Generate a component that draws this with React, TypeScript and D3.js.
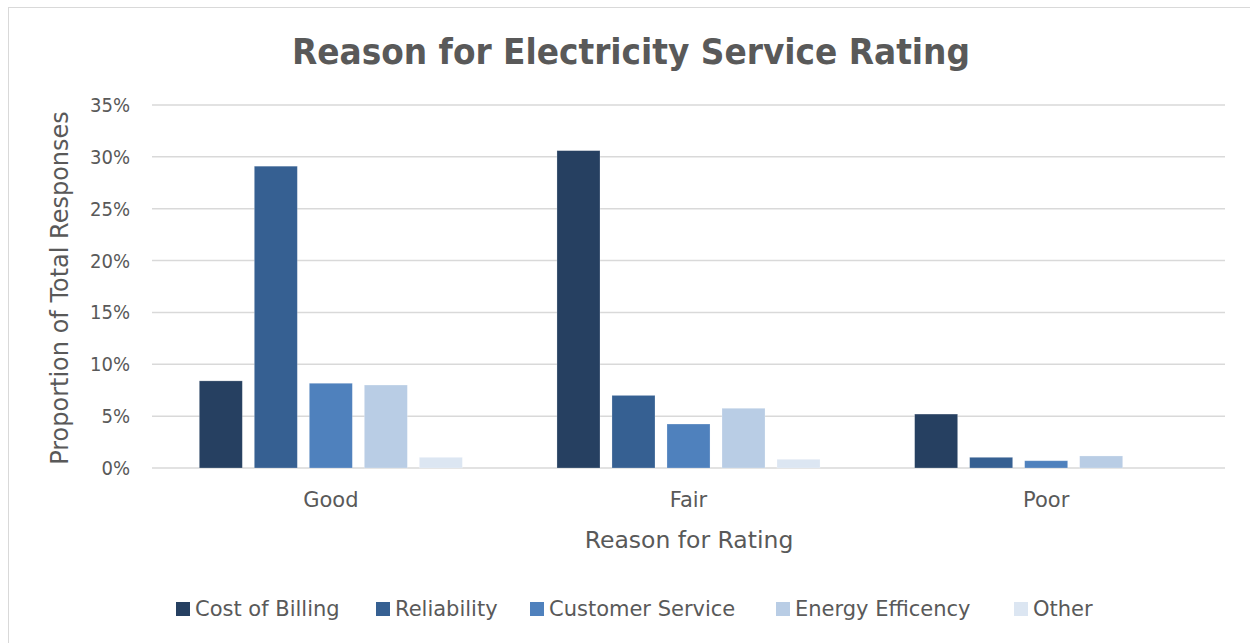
import React from "react";
import * as d3 from "d3";

const categories = ["Good", "Fair", "Poor"];
const seriesNames = ["Cost of Billing", "Reliability", "Customer Service", "Energy Efficency", "Other"];
const costOfBilling = [0.084, 0.306, 0.052];
const reliability = [0.291, 0.070, 0.0103];
const customerService = [0.0817, 0.0424, 0.007];
const energyEfficency = [0.080, 0.0576, 0.0116];
const other = [0.0103, 0.0084, 0.0];
const yTicks = [0, 0.05, 0.1, 0.15, 0.2, 0.25, 0.3, 0.35];
const colors = ["#264061", "#366092", "#4f81bd", "#b9cde5", "#dce6f2"];

const seriesValues = [costOfBilling, reliability, customerService, energyEfficency, other];

export default function App() {
  const W = 1250, H = 643;
  const left = 152, right = 1225, top = 105, bottom = 468;
  const x0 = d3.scaleBand<string>().domain(categories).range([left, right]).padding(0);
  const x1 = d3.scaleBand<string>().domain(seriesNames).range([0, x0.bandwidth()]).paddingInner(0.218).paddingOuter(0.86);
  const y = d3.scaleLinear().domain([0, 0.35]).range([bottom, top]);
  const fmt = d3.format(".0%");
  const font = "'DejaVu Sans', sans-serif";
  const fontC = "'DejaVu Sans Condensed', 'DejaVu Sans', sans-serif";
  const textColor = "#595959";
  const legendX = [176, 376, 530, 776, 1014];

  return (
    <svg width={W} height={H} style={{ position: "absolute", left: 0, top: 0, background: "#fff" }}>
      <rect x={8.5} y={7.5} width={1260} height={660} fill="#fff" stroke="#d9d9d9" strokeWidth={1} />
      <text x={631} y={64} textAnchor="middle" fontFamily={fontC} fontWeight="bold" fontSize={35} fill={textColor} textLength={678} lengthAdjust="spacingAndGlyphs">
        Reason for Electricity Service Rating
      </text>
      {yTicks.map((t) => (
        <g key={t}>
          <line x1={left} x2={right} y1={y(t)} y2={y(t)} stroke="#d9d9d9" strokeWidth={1.5} />
          <text x={130} y={y(t)} dy="0.35em" textAnchor="end" fontFamily={fontC} fontSize={20} fill={textColor}>
            {fmt(t)}
          </text>
        </g>
      ))}
      {categories.map((c, ci) => (
        <g key={c}>
          {seriesNames.map((s, si) => {
            const v = seriesValues[si][ci];
            const bx = (x0(c) as number) + (x1(s) as number);
            return (
              <rect key={s} x={bx} y={y(v)} width={x1.bandwidth()} height={bottom - y(v)} fill={colors[si]} stroke="#ffffff" strokeOpacity={0.3} strokeWidth={0.75} />
            );
          })}
          <text x={(x0(c) as number) + x0.bandwidth() / 2} y={500} dy="0.35em" textAnchor="middle" fontFamily={font} fontSize={21} fill={textColor}>
            {c}
          </text>
        </g>
      ))}
      <text x={689} y={540} dy="0.35em" textAnchor="middle" fontFamily={font} fontSize={23.5} fill={textColor}>
        Reason for Rating
      </text>
      <text transform={`translate(60,288) rotate(-90)`} textAnchor="middle" dy="0.35em" fontFamily={font} fontSize={24} fill={textColor}>
        Proportion of Total Responses
      </text>
      {seriesNames.map((s, i) => (
        <g key={s}>
          <rect x={legendX[i]} y={602} width={14} height={14} fill={colors[i]} />
          <text x={legendX[i] + 19} y={609} dy="0.35em" fontFamily={font} fontSize={21} fill={textColor}>
            {s}
          </text>
        </g>
      ))}
    </svg>
  );
}
